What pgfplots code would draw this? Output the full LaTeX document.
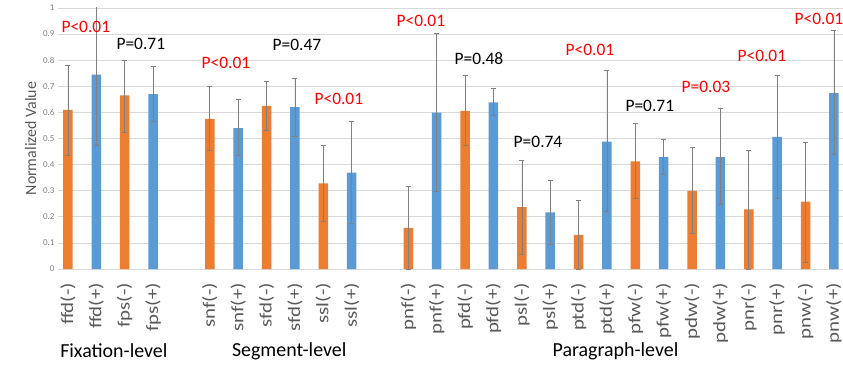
\documentclass[border=0pt]{standalone}
\usepackage{fontspec}
\setmainfont{Carlito}
\usepackage{pgfplots}
\pgfplotsset{compat=1.18}
\usepackage{graphicx}
\definecolor{xorange}{HTML}{ED7D31}
\definecolor{xblue}{HTML}{5B9BD5}
\definecolor{xgrid}{HTML}{D9D9D9}
\definecolor{xerr}{HTML}{808080}
\definecolor{xtick}{HTML}{7F7F7F}
\definecolor{xlabel}{HTML}{595959}
\definecolor{xred}{HTML}{FF0000}
\newcommand{\tl}[1]{\scalebox{1.2}[1]{#1}}
\begin{document}
\begin{tikzpicture}
\useasboundingbox (-58bp,-96bp) rectangle (785bp,269bp);
\begin{axis}[
  at={(0,0)}, anchor=south west,
  scale only axis, width=785bp, height=261bp,
  xmin=-0.35, xmax=27.32, ymin=0, ymax=1,
  clip mode=individual,
  axis line style={draw=none},
  major tick length=0pt,
  ymajorgrids, grid style={xgrid, line width=0.8bp},
  ytick={0,0.1,...,1.01},
  yticklabel style={font=\fontsize{9}{10}\selectfont, text=xtick, /pgf/number format/fixed, /pgf/number format/precision=1},
  /pgf/number format/assume math mode=true,
  ylabel={Normalized Value},
  ylabel style={font=\fontsize{16}{18}\selectfont, text=xlabel},
  xtick={0,1,2,3,5,6,7,8,9,10,12,13,14,15,16,17,18,19,20,21,22,23,24,25,26,27},
  xticklabels={\tl{ffd(-)},\tl{ffd(+)},\tl{fps(-)},\tl{fps(+)},\tl{snf(-)},\tl{snf(+)},\tl{sfd(-)},\tl{sfd(+)},\tl{ssl(-)},\tl{ssl(+)},\tl{pnf(-)},\tl{pnf(+)},\tl{pfd(-)},\tl{pfd(+)},\tl{psl(-)},\tl{psl(+)},\tl{ptd(-)},\tl{ptd(+)},\tl{pfw(-)},\tl{pfw(+)},\tl{pdw(-)},\tl{pdw(+)},\tl{pnr(-)},\tl{pnr(+)},\tl{pnw(-)},\tl{pnw(+)}},
  xticklabel style={rotate=90, anchor=east, inner sep=0pt, font=\fontsize{17.5}{19}\selectfont, text=xlabel},
  xticklabel shift=14bp,
  error bars/error bar style={xerr, line width=0.7bp},
  error bars/error mark options={xerr, line width=0.7bp, mark size=2.5bp, rotate=90},
]
\addplot[ybar, bar width=9.5bp, bar shift=0pt, fill=xorange, draw=none,
  error bars/.cd, y dir=both, y explicit]
  table[x=x, y=y, y error plus=ep, y error minus=em] {
x y ep em
0 0.610 0.170 0.175
2 0.665 0.135 0.140
5 0.575 0.125 0.120
7 0.625 0.095 0.095
9 0.328 0.146 0.147
12 0.158 0.157 0.158
14 0.606 0.136 0.132
16 0.237 0.178 0.179
18 0.131 0.131 0.131
20 0.412 0.146 0.143
22 0.299 0.166 0.161
24 0.228 0.227 0.228
26 0.258 0.228 0.231
};
\addplot[ybar, bar width=9.5bp, bar shift=0pt, fill=xblue, draw=none,
  error bars/.cd, y dir=both, y explicit]
  table[x=x, y=y, y error plus=ep, y error minus=em] {
x y ep em
1 0.745 0.270 0.270
3 0.670 0.105 0.105
6 0.540 0.110 0.105
8 0.620 0.110 0.110
10 0.369 0.196 0.196
13 0.599 0.302 0.300
15 0.638 0.053 0.051
17 0.217 0.121 0.121
19 0.488 0.272 0.267
21 0.429 0.068 0.066
23 0.429 0.188 0.182
25 0.506 0.236 0.237
27 0.674 0.241 0.236
};
\begin{scope}[every node/.style={font=\fontsize{17.5}{19}\selectfont, inner sep=0pt}]
\node[text=xred] at (axis cs:0.63,0.927) {P<0.01};
\node[text=black] at (axis cs:2.57,0.862) {P=0.71};
\node[text=xred] at (axis cs:5.57,0.789) {P<0.01};
\node[text=black] at (axis cs:8.07,0.858) {P=0.47};
\node[text=xred] at (axis cs:9.55,0.651) {P<0.01};
\node[text=xred] at (axis cs:12.44,0.950) {P<0.01};
\node[text=black] at (axis cs:14.49,0.805) {P=0.48};
\node[text=black] at (axis cs:16.57,0.487) {P=0.74};
\node[text=xred] at (axis cs:18.40,0.839) {P<0.01};
\node[text=black] at (axis cs:20.51,0.625) {P=0.71};
\node[text=xred] at (axis cs:22.49,0.697) {P=0.03};
\node[text=xred] at (axis cs:24.46,0.816) {P<0.01};
\node[text=xred] at (axis cs:26.47,0.958) {P<0.01};
\end{scope}
\begin{scope}[every node/.style={font=\fontsize{20}{22}\selectfont, inner sep=0pt, text=black}]
\node at (axis cs:1.62,-0.314) {Fixation-level};
\node at (axis cs:7.8,-0.314) {Segment-level};
\node at (axis cs:19.3,-0.314) {Paragraph-level};
\end{scope}
\end{axis}
\end{tikzpicture}
\end{document}
